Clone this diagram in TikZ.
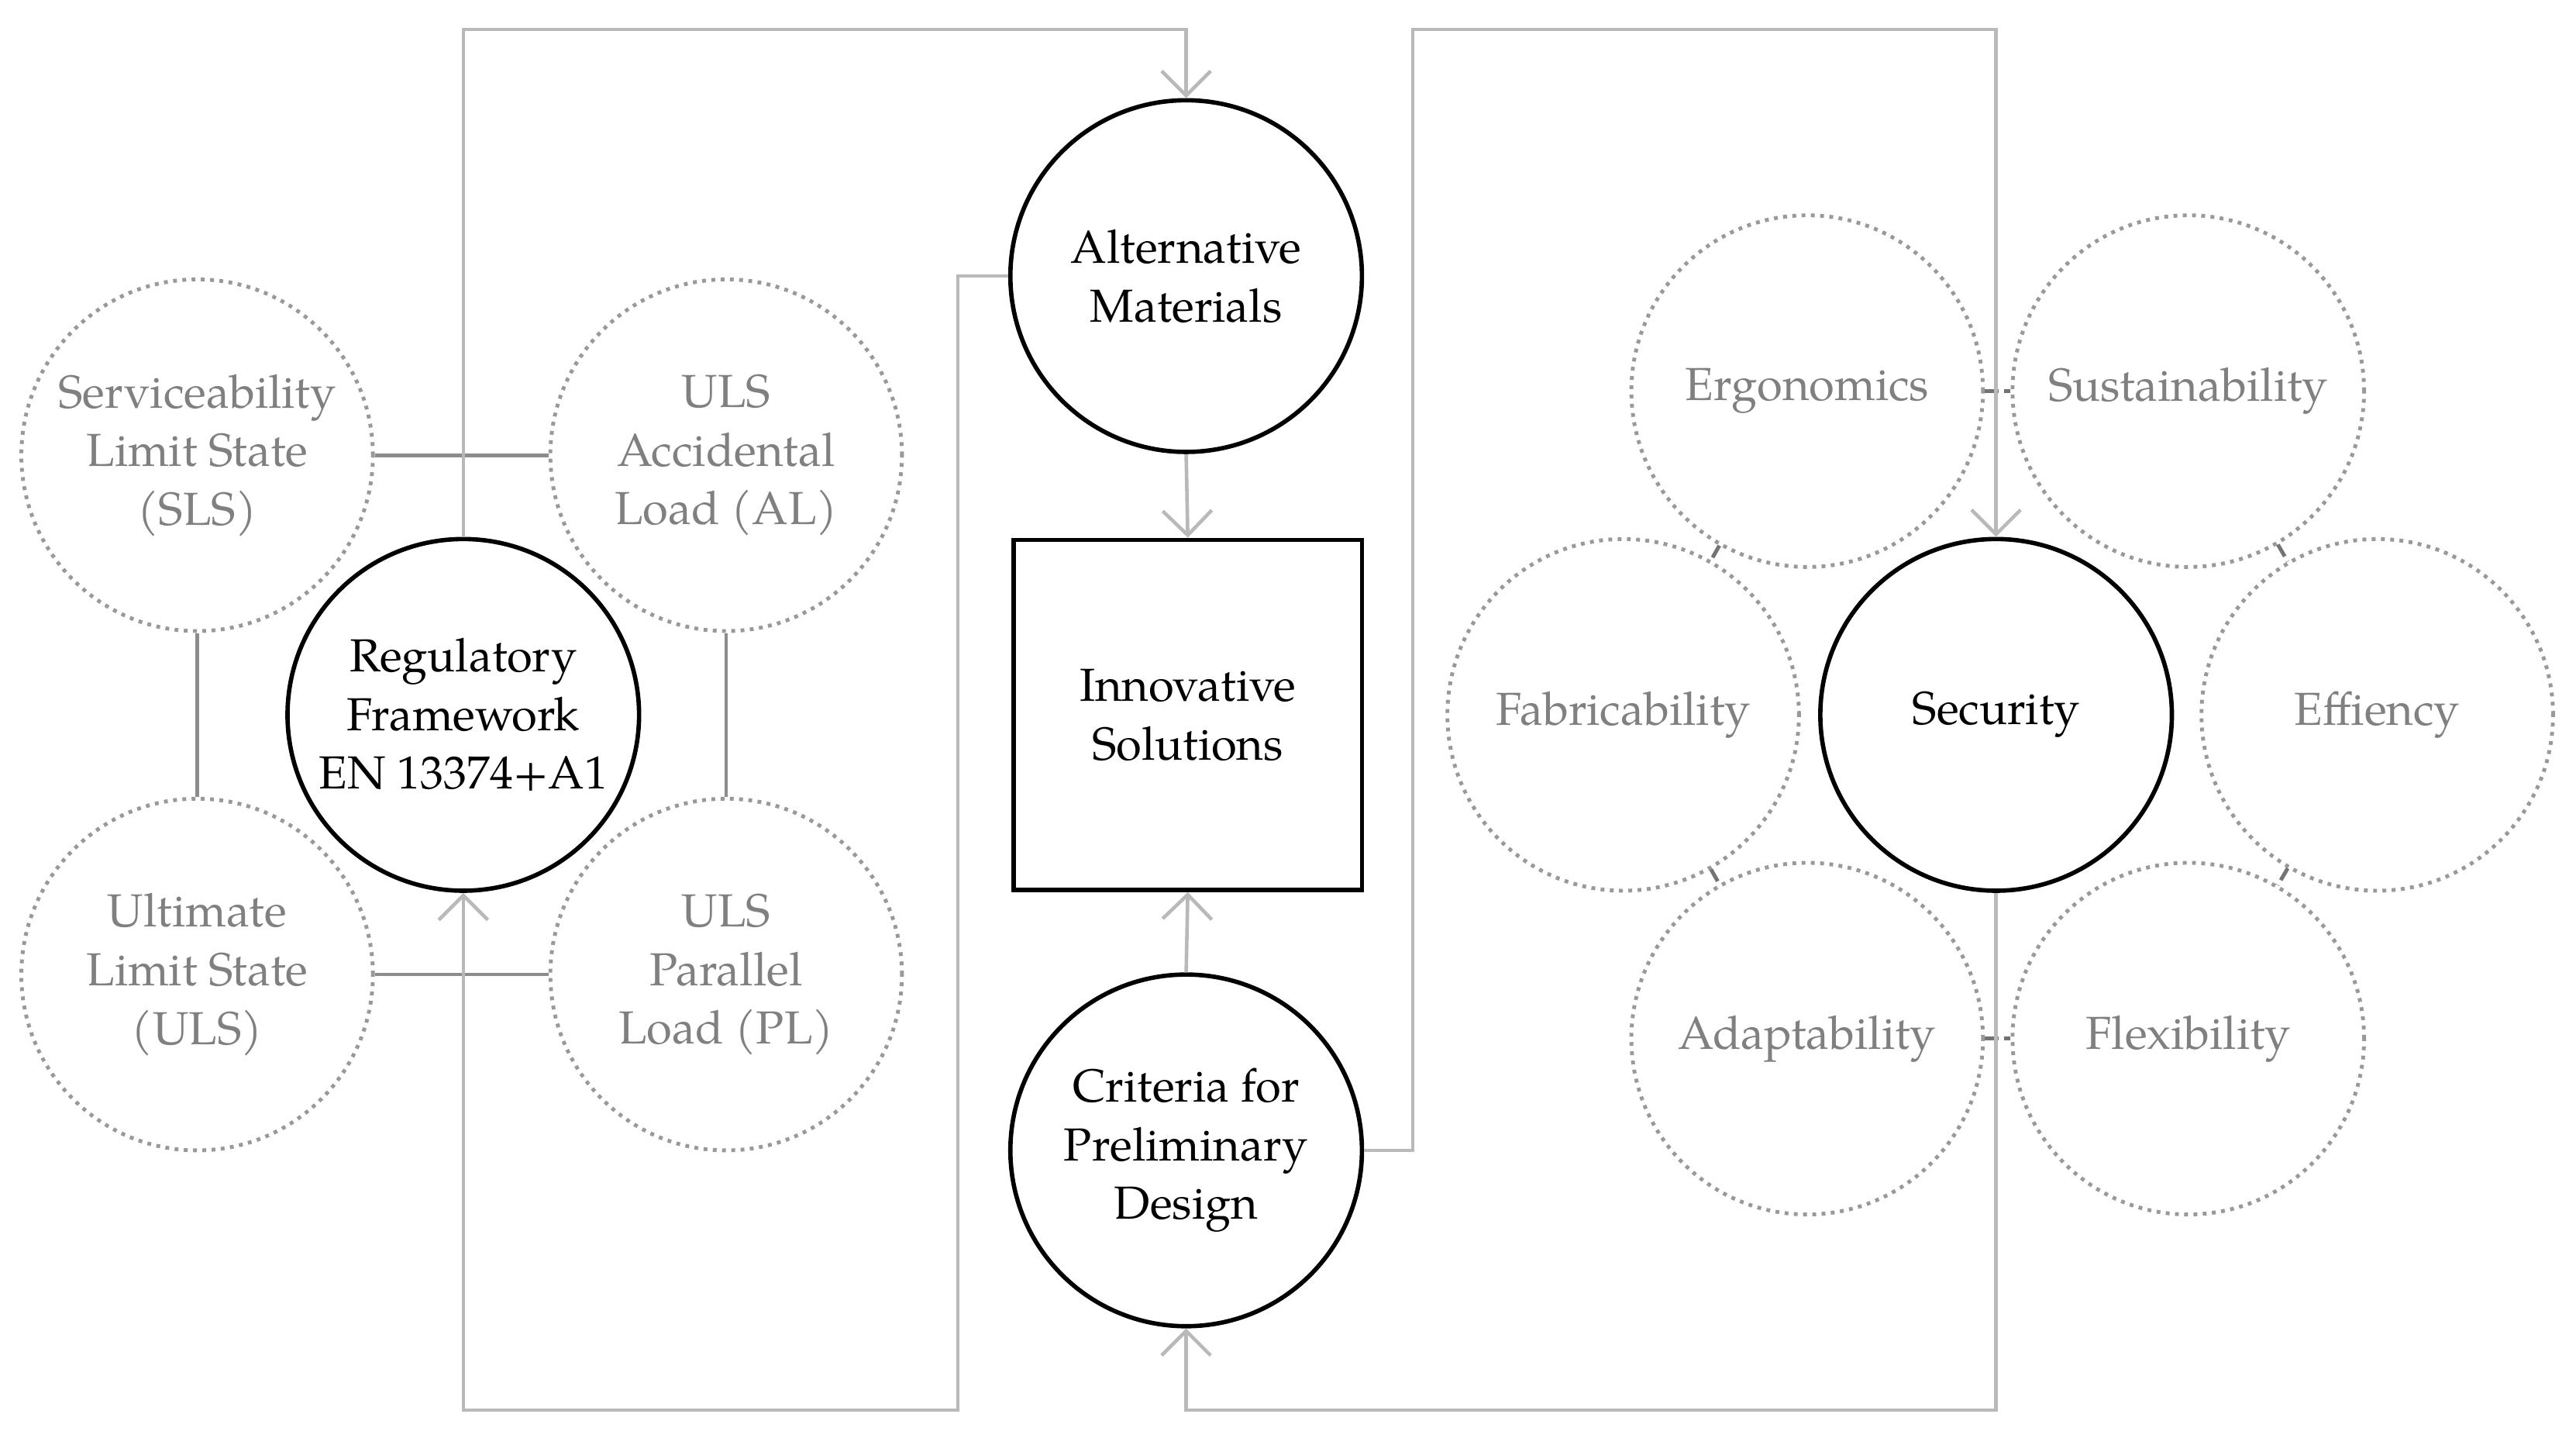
\documentclass[tikz,border=0pt]{standalone}
\usepackage{fontspec}
\setmainfont{TeX Gyre Pagella}[Scale=1]
\usetikzlibrary{arrows.meta}
\begin{document}
\begin{tikzpicture}[x=0.0212cm,y=-0.0212cm,
  every node/.style={font=\fontsize{17}{21.5}\selectfont, align=center, inner sep=0pt},
  main/.style={circle, draw=black, line width=1.6pt, minimum size=214*0.0212cm},
  sub/.style={circle, draw=gray!80, line width=1.4pt, dotted, minimum size=214*0.0212cm, text=black!50},
  box/.style={rectangle, draw=black, line width=1.6pt, minimum width=212*0.0212cm, minimum height=213*0.0212cm},
  link/.style={draw=gray!90, line width=1.3pt},
  tick/.style={draw=black!55, line width=1.4pt, dash pattern=on 5pt off 2pt},
  flow/.style={draw=gray!55, line width=1.3pt, -{Straight Barb[length=9pt,width=18pt,line width=1.3pt]}}]
\useasboundingbox (0,0) rectangle (1568,879);
\node[sub] (sls) at (120,277) {Serviceability\\Limit State\\(SLS)};
\node[sub] (al) at (442,277) {ULS\\Accidental\\Load (AL)};
\node[sub] (uls) at (120,593) {Ultimate\\Limit State\\(ULS)};
\node[sub] (pl) at (442,593) {ULS\\Parallel\\Load (PL)};
\node[main] (reg) at (282,435) {Regulatory\\Framework\\EN 13374+A1};
\node[main] (alt) at (722,168) {Alternative\\Materials};
\node[box] (inn) at (723,435) {Innovative\\Solutions};
\node[main] (cri) at (722,700) {Criteria for\\Preliminary\\Design};
\node[sub] (erg) at (1100,238) {Ergonomics};
\node[sub] (sus) at (1332,238) {Sustainability};
\node[sub] (fab) at (988,435) {Fabricability};
\node[main] (sec) at (1215,435) {Security};
\node[sub] (eff) at (1447,435) {Effiency};
\node[sub] (ada) at (1100,632) {Adaptability};
\node[sub] (fle) at (1332,632) {Flexibility};
\draw[link] (sls) -- (al);
\draw[link] (sls) -- (uls);
\draw[link] (al) -- (pl);
\draw[link] (uls) -- (pl);
\draw[tick] (erg) -- (sus);
\draw[tick] (erg) -- (fab);
\draw[tick] (sus) -- (eff);
\draw[tick] (fab) -- (ada);
\draw[tick] (eff) -- (fle);
\draw[tick] (ada) -- (fle);
\coordinate (p1) at (282,18); \coordinate (p2) at (722,18);
\coordinate (q1) at (583,168); \coordinate (q2) at (583,858); \coordinate (q3) at (282,858);
\coordinate (r1) at (860,700); \coordinate (r2) at (860,18); \coordinate (r3) at (1215,18);
\coordinate (s1) at (1215,858); \coordinate (s2) at (722,858);
\draw[flow] (reg.north) -- (p1) -- (p2) -- (alt.north);
\draw[flow] (alt.west) -- (q1) -- (q2) -- (q3) -- (reg.south);
\draw[flow] (alt.south) -- (inn.north);
\draw[flow] (cri.north) -- (inn.south);
\draw[flow] (cri.east) -- (r1) -- (r2) -- (r3) -- (sec.north);
\draw[flow] (sec.south) -- (s1) -- (s2) -- (cri.south);
\end{tikzpicture}
\end{document}
